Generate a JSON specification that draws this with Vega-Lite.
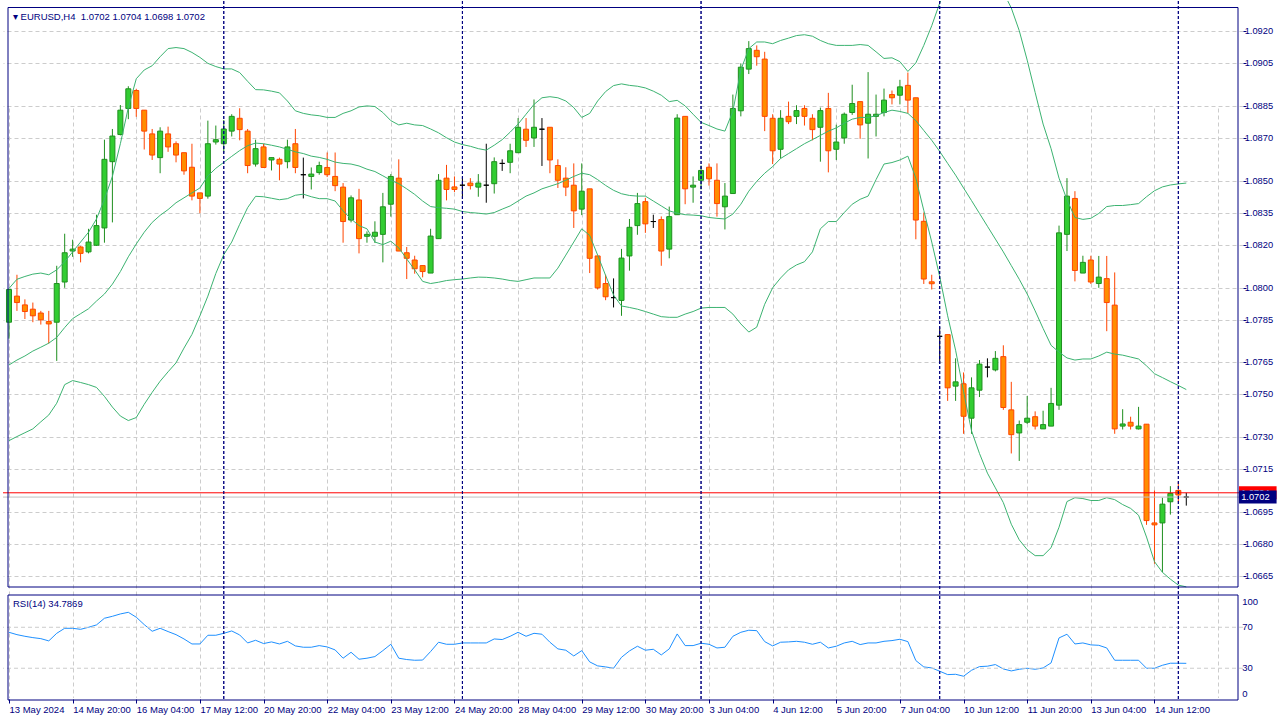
{
"$schema": "https://vega.github.io/schema/vega-lite/v6.json",
"background": "#ffffff",
"width": 1280,
"height": 720,
"autosize": {"type": "fit", "contains": "padding"},
"padding": {"left": 2, "top": 0, "right": 2, "bottom": 6},
"config": {
 "view": {"stroke": null},
 "axis": {"labelFont": "Liberation Sans", "labelFontSize": 9.5, "labelColor": "#000080", "gridColor": "#cccccc", "gridDash": [4, 3], "gridWidth": 1, "domainColor": "#000080", "tickColor": "#000080", "title": null, "labelOverlap": false}
},
"datasets": {
 "seps": [{"k": 27}, {"k": 57}, {"k": 87}, {"k": 117}, {"k": 147}],
 "quotes": [{"side": "ask", "p": 1.0704}, {"side": "bid", "p": 1.0702}],
 "pticks": [{"p":1.0665},{"p":1.068},{"p":1.0695},{"p":1.0715},{"p":1.073},{"p":1.075},{"p":1.0765},{"p":1.0785},{"p":1.08},{"p":1.082},{"p":1.0835},{"p":1.085},{"p":1.087},{"p":1.0885},{"p":1.0905},{"p":1.092}],
 "rticks": [{"v":100},{"v":70},{"v":30},{"v":0}],
 "bars": [
{"k":0,"o":1.07838,"h":1.07993,"l":1.07761,"c":1.07991,"u":1.07996,"m":1.07638,"d":1.07284,"r":65.1},
{"k":1,"o":1.07960,"h":1.08060,"l":1.07891,"c":1.07930,"u":1.08039,"m":1.07661,"d":1.07303,"r":62.8},
{"k":2,"o":1.07919,"h":1.07945,"l":1.07853,"c":1.07888,"u":1.08052,"m":1.07680,"d":1.07321,"r":61.2},
{"k":3,"o":1.07899,"h":1.07930,"l":1.07838,"c":1.07868,"u":1.08063,"m":1.07703,"d":1.07339,"r":59.9},
{"k":4,"o":1.07881,"h":1.07891,"l":1.07827,"c":1.07849,"u":1.08068,"m":1.07721,"d":1.07372,"r":58.9},
{"k":5,"o":1.07841,"h":1.07891,"l":1.07738,"c":1.07830,"u":1.08060,"m":1.07740,"d":1.07404,"r":56.7},
{"k":6,"o":1.07838,"h":1.08102,"l":1.07657,"c":1.08019,"u":1.08083,"m":1.07767,"d":1.07459,"r":64.1},
{"k":7,"o":1.08026,"h":1.08252,"l":1.07999,"c":1.08163,"u":1.08121,"m":1.07813,"d":1.07546,"r":69},
{"k":8,"o":1.08171,"h":1.08224,"l":1.08144,"c":1.08180,"u":1.08167,"m":1.07855,"d":1.07565,"r":69},
{"k":9,"o":1.08190,"h":1.08194,"l":1.08118,"c":1.08160,"u":1.08213,"m":1.07878,"d":1.07556,"r":68},
{"k":10,"o":1.08167,"h":1.08275,"l":1.08160,"c":1.08213,"u":1.08259,"m":1.07901,"d":1.07546,"r":70},
{"k":11,"o":1.08198,"h":1.08341,"l":1.08195,"c":1.08290,"u":1.08321,"m":1.07937,"d":1.07533,"r":72.3},
{"k":12,"o":1.08279,"h":1.08692,"l":1.08210,"c":1.08600,"u":1.08413,"m":1.07970,"d":1.07491,"r":78.8},
{"k":13,"o":1.08589,"h":1.08742,"l":1.08305,"c":1.08709,"u":1.08520,"m":1.08016,"d":1.07441,"r":80.7},
{"k":14,"o":1.08716,"h":1.08854,"l":1.08712,"c":1.08830,"u":1.08673,"m":1.08075,"d":1.07399,"r":83},
{"k":15,"o":1.08838,"h":1.08942,"l":1.08788,"c":1.08930,"u":1.08842,"m":1.08144,"d":1.07378,"r":84.6},
{"k":16,"o":1.08922,"h":1.08930,"l":1.08799,"c":1.08838,"u":1.08977,"m":1.08204,"d":1.07392,"r":79.8},
{"k":17,"o":1.08830,"h":1.08830,"l":1.08646,"c":1.08732,"u":1.09018,"m":1.08259,"d":1.07454,"r":72.6},
{"k":18,"o":1.08719,"h":1.08742,"l":1.08597,"c":1.08620,"u":1.09038,"m":1.08305,"d":1.07510,"r":66.1},
{"k":19,"o":1.08608,"h":1.08750,"l":1.08535,"c":1.08732,"u":1.09080,"m":1.08338,"d":1.07562,"r":69},
{"k":20,"o":1.08719,"h":1.08753,"l":1.08635,"c":1.08658,"u":1.09118,"m":1.08365,"d":1.07606,"r":65.8},
{"k":21,"o":1.08673,"h":1.08684,"l":1.08586,"c":1.08620,"u":1.09123,"m":1.08397,"d":1.07648,"r":62.8},
{"k":22,"o":1.08631,"h":1.08631,"l":1.08528,"c":1.08546,"u":1.09118,"m":1.08420,"d":1.07717,"r":58.6},
{"k":23,"o":1.08563,"h":1.08673,"l":1.08408,"c":1.08428,"u":1.09100,"m":1.08443,"d":1.07781,"r":53.7},
{"k":24,"o":1.08443,"h":1.08443,"l":1.08348,"c":1.08417,"u":1.09077,"m":1.08466,"d":1.07868,"r":53.7},
{"k":25,"o":1.08428,"h":1.08781,"l":1.08416,"c":1.08673,"u":1.09049,"m":1.08522,"d":1.07960,"r":62.2},
{"k":26,"o":1.08681,"h":1.08758,"l":1.08669,"c":1.08692,"u":1.09034,"m":1.08558,"d":1.08066,"r":62.2},
{"k":27,"o":1.08673,"h":1.08784,"l":1.08632,"c":1.08742,"u":1.09023,"m":1.08586,"d":1.08154,"r":64.1},
{"k":28,"o":1.08732,"h":1.08811,"l":1.08707,"c":1.08801,"u":1.09023,"m":1.08614,"d":1.08213,"r":66.4},
{"k":29,"o":1.08792,"h":1.08839,"l":1.08689,"c":1.08739,"u":1.09006,"m":1.08641,"d":1.08296,"r":62.5},
{"k":30,"o":1.08732,"h":1.08742,"l":1.08535,"c":1.08571,"u":1.08965,"m":1.08664,"d":1.08374,"r":54.7},
{"k":31,"o":1.08578,"h":1.08692,"l":1.08566,"c":1.08650,"u":1.08926,"m":1.08676,"d":1.08427,"r":57.3},
{"k":32,"o":1.08658,"h":1.08673,"l":1.08562,"c":1.08562,"u":1.08925,"m":1.08673,"d":1.08425,"r":54.1},
{"k":33,"o":1.08597,"h":1.08608,"l":1.08548,"c":1.08608,"u":1.08919,"m":1.08666,"d":1.08418,"r":55.7},
{"k":34,"o":1.08600,"h":1.08608,"l":1.08502,"c":1.08578,"u":1.08911,"m":1.08658,"d":1.08411,"r":53.7},
{"k":35,"o":1.08589,"h":1.08692,"l":1.08558,"c":1.08658,"u":1.08873,"m":1.08647,"d":1.08416,"r":56.3},
{"k":36,"o":1.08673,"h":1.08742,"l":1.08535,"c":1.08562,"u":1.08827,"m":1.08635,"d":1.08432,"r":51.8},
{"k":37,"o":1.08528,"h":1.08608,"l":1.08417,"c":1.08528,"u":1.08815,"m":1.08627,"d":1.08437,"r":50.5},
{"k":38,"o":1.08520,"h":1.08562,"l":1.08459,"c":1.08531,"u":1.08808,"m":1.08615,"d":1.08425,"r":50.5},
{"k":39,"o":1.08538,"h":1.08589,"l":1.08528,"c":1.08571,"u":1.08804,"m":1.08609,"d":1.08416,"r":52.1},
{"k":40,"o":1.08562,"h":1.08632,"l":1.08517,"c":1.08528,"u":1.08796,"m":1.08600,"d":1.08416,"r":50.8},
{"k":41,"o":1.08520,"h":1.08632,"l":1.08451,"c":1.08477,"u":1.08796,"m":1.08587,"d":1.08405,"r":47.9},
{"k":42,"o":1.08470,"h":1.08489,"l":1.08210,"c":1.08309,"u":1.08815,"m":1.08581,"d":1.08359,"r":39.8},
{"k":43,"o":1.08316,"h":1.08431,"l":1.08305,"c":1.08420,"u":1.08827,"m":1.08578,"d":1.08321,"r":45.6},
{"k":44,"o":1.08410,"h":1.08462,"l":1.08160,"c":1.08229,"u":1.08845,"m":1.08569,"d":1.08290,"r":38.8},
{"k":45,"o":1.08240,"h":1.08263,"l":1.08210,"c":1.08249,"u":1.08850,"m":1.08554,"d":1.08275,"r":39.8},
{"k":46,"o":1.08240,"h":1.08310,"l":1.08209,"c":1.08259,"u":1.08847,"m":1.08543,"d":1.08213,"r":41.4},
{"k":47,"o":1.08249,"h":1.08443,"l":1.08118,"c":1.08378,"u":1.08819,"m":1.08523,"d":1.08201,"r":47.2},
{"k":48,"o":1.08390,"h":1.08531,"l":1.08332,"c":1.08520,"u":1.08781,"m":1.08502,"d":1.08217,"r":53.4},
{"k":49,"o":1.08512,"h":1.08600,"l":1.08171,"c":1.08171,"u":1.08761,"m":1.08486,"d":1.08186,"r":39.8},
{"k":50,"o":1.08163,"h":1.08190,"l":1.08040,"c":1.08137,"u":1.08769,"m":1.08462,"d":1.08134,"r":38.5},
{"k":51,"o":1.08129,"h":1.08149,"l":1.08065,"c":1.08088,"u":1.08761,"m":1.08436,"d":1.08083,"r":37.8},
{"k":52,"o":1.08103,"h":1.08103,"l":1.08048,"c":1.08075,"u":1.08758,"m":1.08405,"d":1.08029,"r":38},
{"k":53,"o":1.08068,"h":1.08275,"l":1.08068,"c":1.08241,"u":1.08742,"m":1.08379,"d":1.08019,"r":46.3},
{"k":54,"o":1.08229,"h":1.08531,"l":1.08229,"c":1.08502,"u":1.08724,"m":1.08374,"d":1.08025,"r":55.4},
{"k":55,"o":1.08512,"h":1.08574,"l":1.08408,"c":1.08459,"u":1.08701,"m":1.08371,"d":1.08033,"r":53.4},
{"k":56,"o":1.08471,"h":1.08520,"l":1.08447,"c":1.08459,"u":1.08681,"m":1.08367,"d":1.08037,"r":53.4},
{"k":57,"o":1.08479,"h":1.08516,"l":1.08416,"c":1.08479,"u":1.08669,"m":1.08356,"d":1.08040,"r":54.7},
{"k":58,"o":1.08489,"h":1.08512,"l":1.08459,"c":1.08477,"u":1.08661,"m":1.08351,"d":1.08045,"r":54.7},
{"k":59,"o":1.08470,"h":1.08531,"l":1.08425,"c":1.08489,"u":1.08650,"m":1.08348,"d":1.08049,"r":54.7},
{"k":60,"o":1.08479,"h":1.08673,"l":1.08397,"c":1.08479,"u":1.08643,"m":1.08344,"d":1.08048,"r":54.7},
{"k":61,"o":1.08486,"h":1.08609,"l":1.08440,"c":1.08589,"u":1.08666,"m":1.08351,"d":1.08045,"r":58.6},
{"k":62,"o":1.08581,"h":1.08600,"l":1.08546,"c":1.08581,"u":1.08692,"m":1.08367,"d":1.08040,"r":58},
{"k":63,"o":1.08586,"h":1.08673,"l":1.08535,"c":1.08640,"u":1.08727,"m":1.08382,"d":1.08033,"r":61.2},
{"k":64,"o":1.08631,"h":1.08793,"l":1.08631,"c":1.08750,"u":1.08765,"m":1.08405,"d":1.08029,"r":65.1},
{"k":65,"o":1.08741,"h":1.08793,"l":1.08658,"c":1.08689,"u":1.08811,"m":1.08428,"d":1.08037,"r":61.2},
{"k":66,"o":1.08700,"h":1.08880,"l":1.08658,"c":1.08750,"u":1.08857,"m":1.08443,"d":1.08045,"r":64.1},
{"k":67,"o":1.08741,"h":1.08793,"l":1.08569,"c":1.08741,"u":1.08888,"m":1.08462,"d":1.08045,"r":63.2},
{"k":68,"o":1.08750,"h":1.08750,"l":1.08535,"c":1.08597,"u":1.08893,"m":1.08474,"d":1.08045,"r":55.4},
{"k":69,"o":1.08571,"h":1.08600,"l":1.08466,"c":1.08502,"u":1.08888,"m":1.08486,"d":1.08091,"r":48.9},
{"k":70,"o":1.08512,"h":1.08563,"l":1.08428,"c":1.08470,"u":1.08873,"m":1.08502,"d":1.08152,"r":47.6},
{"k":71,"o":1.08479,"h":1.08581,"l":1.08279,"c":1.08359,"u":1.08842,"m":1.08520,"d":1.08213,"r":42},
{"k":72,"o":1.08367,"h":1.08581,"l":1.08339,"c":1.08451,"u":1.08796,"m":1.08535,"d":1.08275,"r":47.2},
{"k":73,"o":1.08462,"h":1.08462,"l":1.08068,"c":1.08137,"u":1.08815,"m":1.08528,"d":1.08244,"r":36.2},
{"k":74,"o":1.08148,"h":1.08148,"l":1.07991,"c":1.07999,"u":1.08873,"m":1.08505,"d":1.08152,"r":32.3},
{"k":75,"o":1.08019,"h":1.08060,"l":1.07941,"c":1.07957,"u":1.08917,"m":1.08478,"d":1.08057,"r":31.3},
{"k":76,"o":1.07953,"h":1.08043,"l":1.07907,"c":1.07953,"u":1.08945,"m":1.08455,"d":1.07965,"r":30},
{"k":77,"o":1.07940,"h":1.08181,"l":1.07868,"c":1.08138,"u":1.08953,"m":1.08439,"d":1.07914,"r":40.7},
{"k":78,"o":1.08148,"h":1.08321,"l":1.08079,"c":1.08282,"u":1.08946,"m":1.08431,"d":1.07907,"r":46.9},
{"k":79,"o":1.08290,"h":1.08443,"l":1.08247,"c":1.08393,"u":1.08942,"m":1.08428,"d":1.07899,"r":51.5},
{"k":80,"o":1.08402,"h":1.08420,"l":1.08256,"c":1.08298,"u":1.08934,"m":1.08428,"d":1.07888,"r":47.6},
{"k":81,"o":1.08309,"h":1.08341,"l":1.08279,"c":1.08309,"u":1.08919,"m":1.08405,"d":1.07876,"r":48.5},
{"k":82,"o":1.08318,"h":1.08333,"l":1.08102,"c":1.08171,"u":1.08900,"m":1.08382,"d":1.07864,"r":43},
{"k":83,"o":1.08180,"h":1.08379,"l":1.08137,"c":1.08332,"u":1.08870,"m":1.08359,"d":1.07861,"r":48.9},
{"k":84,"o":1.08341,"h":1.08811,"l":1.08341,"c":1.08793,"u":1.08876,"m":1.08348,"d":1.07861,"r":63.5},
{"k":85,"o":1.08801,"h":1.08801,"l":1.08390,"c":1.08462,"u":1.08850,"m":1.08341,"d":1.07876,"r":52.1},
{"k":86,"o":1.08470,"h":1.08520,"l":1.08397,"c":1.08479,"u":1.08811,"m":1.08339,"d":1.07888,"r":52.1},
{"k":87,"o":1.08502,"h":1.08571,"l":1.08459,"c":1.08548,"u":1.08773,"m":1.08336,"d":1.07904,"r":54.4},
{"k":88,"o":1.08563,"h":1.08581,"l":1.08477,"c":1.08509,"u":1.08758,"m":1.08328,"d":1.07907,"r":53.4},
{"k":89,"o":1.08502,"h":1.08581,"l":1.08332,"c":1.08393,"u":1.08742,"m":1.08324,"d":1.07907,"r":49.8},
{"k":90,"o":1.08378,"h":1.08489,"l":1.08272,"c":1.08428,"u":1.08732,"m":1.08321,"d":1.07907,"r":50.5},
{"k":91,"o":1.08440,"h":1.08903,"l":1.08440,"c":1.08838,"u":1.08825,"m":1.08344,"d":1.07876,"r":61.2},
{"k":92,"o":1.08827,"h":1.09049,"l":1.08801,"c":1.09031,"u":1.09018,"m":1.08390,"d":1.07830,"r":65.1},
{"k":93,"o":1.09022,"h":1.09153,"l":1.08999,"c":1.09118,"u":1.09118,"m":1.08451,"d":1.07792,"r":67.1},
{"k":94,"o":1.09110,"h":1.09133,"l":1.09038,"c":1.09080,"u":1.09149,"m":1.08497,"d":1.07815,"r":66.7},
{"k":95,"o":1.09069,"h":1.09103,"l":1.08732,"c":1.08801,"u":1.09149,"m":1.08535,"d":1.07922,"r":56},
{"k":96,"o":1.08792,"h":1.08811,"l":1.08578,"c":1.08640,"u":1.09141,"m":1.08566,"d":1.07999,"r":51.8},
{"k":97,"o":1.08647,"h":1.08830,"l":1.08604,"c":1.08792,"u":1.09156,"m":1.08604,"d":1.08045,"r":55.4},
{"k":98,"o":1.08801,"h":1.08870,"l":1.08765,"c":1.08776,"u":1.09167,"m":1.08627,"d":1.08083,"r":55.7},
{"k":99,"o":1.08801,"h":1.08853,"l":1.08765,"c":1.08828,"u":1.09179,"m":1.08650,"d":1.08106,"r":56.3},
{"k":100,"o":1.08838,"h":1.08853,"l":1.08758,"c":1.08801,"u":1.09183,"m":1.08673,"d":1.08121,"r":55.4},
{"k":101,"o":1.08792,"h":1.08811,"l":1.08689,"c":1.08739,"u":1.09176,"m":1.08692,"d":1.08167,"r":53.4},
{"k":102,"o":1.08750,"h":1.08842,"l":1.08589,"c":1.08828,"u":1.09156,"m":1.08712,"d":1.08275,"r":55.4},
{"k":103,"o":1.08838,"h":1.08911,"l":1.08539,"c":1.08640,"u":1.09141,"m":1.08732,"d":1.08309,"r":49.8},
{"k":104,"o":1.08647,"h":1.08762,"l":1.08597,"c":1.08681,"u":1.09133,"m":1.08747,"d":1.08309,"r":51.5},
{"k":105,"o":1.08700,"h":1.08819,"l":1.08673,"c":1.08811,"u":1.09133,"m":1.08769,"d":1.08351,"r":54.7},
{"k":106,"o":1.08819,"h":1.08949,"l":1.08808,"c":1.08861,"u":1.09133,"m":1.08788,"d":1.08390,"r":56.3},
{"k":107,"o":1.08870,"h":1.08870,"l":1.08696,"c":1.08761,"u":1.09137,"m":1.08796,"d":1.08413,"r":53.1},
{"k":108,"o":1.08769,"h":1.09008,"l":1.08604,"c":1.08811,"u":1.09133,"m":1.08796,"d":1.08428,"r":54.7},
{"k":109,"o":1.08801,"h":1.08903,"l":1.08707,"c":1.08811,"u":1.09103,"m":1.08804,"d":1.08505,"r":54.7},
{"k":110,"o":1.08819,"h":1.08931,"l":1.08801,"c":1.08877,"u":1.09072,"m":1.08819,"d":1.08578,"r":56.3},
{"k":111,"o":1.08903,"h":1.08922,"l":1.08857,"c":1.08888,"u":1.09075,"m":1.08830,"d":1.08585,"r":57},
{"k":112,"o":1.08900,"h":1.08972,"l":1.08857,"c":1.08939,"u":1.09057,"m":1.08824,"d":1.08597,"r":58.3},
{"k":113,"o":1.08946,"h":1.09006,"l":1.08815,"c":1.08877,"u":1.09011,"m":1.08815,"d":1.08615,"r":56},
{"k":114,"o":1.08888,"h":1.08888,"l":1.08226,"c":1.08316,"u":1.09051,"m":1.08781,"d":1.08512,"r":37.5},
{"k":115,"o":1.08310,"h":1.08351,"l":1.08017,"c":1.08040,"u":1.09133,"m":1.08735,"d":1.08361,"r":31.3},
{"k":116,"o":1.08027,"h":1.08060,"l":1.07991,"c":1.08018,"u":1.09225,"m":1.08689,"d":1.08213,"r":30.3},
{"k":117,"o":1.07772,"h":1.07815,"l":1.07643,"c":1.07772,"u":1.09331,"m":1.08637,"d":1.08052,"r":27.1},
{"k":118,"o":1.07780,"h":1.07780,"l":1.07470,"c":1.07531,"u":1.09409,"m":1.08581,"d":1.07868,"r":23.8},
{"k":119,"o":1.07539,"h":1.07669,"l":1.07470,"c":1.07559,"u":1.09455,"m":1.08526,"d":1.07707,"r":24.1},
{"k":120,"o":1.07550,"h":1.07603,"l":1.07316,"c":1.07398,"u":1.09492,"m":1.08466,"d":1.07514,"r":22.2},
{"k":121,"o":1.07389,"h":1.07580,"l":1.07316,"c":1.07531,"u":1.09511,"m":1.08407,"d":1.07330,"r":28},
{"k":122,"o":1.07520,"h":1.07661,"l":1.07488,"c":1.07642,"u":1.09511,"m":1.08347,"d":1.07224,"r":31.6},
{"k":123,"o":1.07628,"h":1.07669,"l":1.07580,"c":1.07628,"u":1.09492,"m":1.08287,"d":1.07132,"r":32},
{"k":124,"o":1.07615,"h":1.07703,"l":1.07608,"c":1.07669,"u":1.09446,"m":1.08227,"d":1.07063,"r":33.6},
{"k":125,"o":1.07677,"h":1.07730,"l":1.07428,"c":1.07439,"u":1.09382,"m":1.08167,"d":1.06994,"r":29.3},
{"k":126,"o":1.07428,"h":1.07559,"l":1.07224,"c":1.07312,"u":1.09308,"m":1.08103,"d":1.06893,"r":27.4},
{"k":127,"o":1.07320,"h":1.07378,"l":1.07189,"c":1.07359,"u":1.09202,"m":1.08039,"d":1.06820,"r":29},
{"k":128,"o":1.07370,"h":1.07493,"l":1.07362,"c":1.07389,"u":1.09064,"m":1.07970,"d":1.06774,"r":30},
{"k":129,"o":1.07396,"h":1.07421,"l":1.07336,"c":1.07352,"u":1.08913,"m":1.07891,"d":1.06746,"r":29},
{"k":130,"o":1.07339,"h":1.07424,"l":1.07339,"c":1.07359,"u":1.08765,"m":1.07809,"d":1.06746,"r":30.3},
{"k":131,"o":1.07352,"h":1.07531,"l":1.07352,"c":1.07458,"u":1.08650,"m":1.07730,"d":1.06783,"r":35.2},
{"k":132,"o":1.07450,"h":1.08290,"l":1.07428,"c":1.08256,"u":1.08512,"m":1.07698,"d":1.06879,"r":59.6},
{"k":133,"o":1.08249,"h":1.08512,"l":1.08171,"c":1.08428,"u":1.08411,"m":1.07671,"d":1.06999,"r":63.2},
{"k":134,"o":1.08417,"h":1.08451,"l":1.08029,"c":1.08080,"u":1.08328,"m":1.07661,"d":1.07017,"r":53.7},
{"k":135,"o":1.08068,"h":1.08149,"l":1.08068,"c":1.08118,"u":1.08319,"m":1.07666,"d":1.07013,"r":54.7},
{"k":136,"o":1.08129,"h":1.08149,"l":1.08017,"c":1.08026,"u":1.08324,"m":1.07666,"d":1.07004,"r":52.8},
{"k":137,"o":1.08019,"h":1.08148,"l":1.07999,"c":1.08049,"u":1.08347,"m":1.07680,"d":1.07004,"r":52.4},
{"k":138,"o":1.08042,"h":1.08148,"l":1.07796,"c":1.07930,"u":1.08379,"m":1.07698,"d":1.07017,"r":49.8},
{"k":139,"o":1.07918,"h":1.08071,"l":1.07316,"c":1.07339,"u":1.08384,"m":1.07689,"d":1.07008,"r":37.8},
{"k":140,"o":1.07352,"h":1.07431,"l":1.07336,"c":1.07362,"u":1.08384,"m":1.07684,"d":1.06985,"r":37.8},
{"k":141,"o":1.07370,"h":1.07396,"l":1.07336,"c":1.07352,"u":1.08388,"m":1.07675,"d":1.06967,"r":37.8},
{"k":142,"o":1.07339,"h":1.07442,"l":1.07336,"c":1.07352,"u":1.08393,"m":1.07666,"d":1.06935,"r":37.8},
{"k":143,"o":1.07361,"h":1.07361,"l":1.06890,"c":1.06910,"u":1.08425,"m":1.07634,"d":1.06833,"r":30},
{"k":144,"o":1.06899,"h":1.07051,"l":1.06708,"c":1.06890,"u":1.08453,"m":1.07597,"d":1.06718,"r":30},
{"k":145,"o":1.06899,"h":1.07017,"l":1.06668,"c":1.06987,"u":1.08471,"m":1.07579,"d":1.06668,"r":32.9},
{"k":146,"o":1.06998,"h":1.07071,"l":1.06938,"c":1.07037,"u":1.08480,"m":1.07560,"d":1.06636,"r":34.9},
{"k":147,"o":1.07051,"h":1.07091,"l":1.06998,"c":1.07030,"u":1.08485,"m":1.07542,"d":1.06608,"r":34.9},
{"k":148,"o":1.0702,"h":1.0704,"l":1.0698,"c":1.0702,"u":1.08489,"m":1.07523,"d":1.06600,"r":34.79}
 ]
},
"layer": [
 {
  "layer": [
   {
    "data": {"name": "bars"},
    "mark": {"type": "rule", "clip": true, "strokeWidth": 1},
    "encoding": {
     "x": {"field": "k", "type": "quantitative", "scale": {"domain": [-0.125, 154.5], "nice": false, "zero": false},
       "axis": {"values": [0,4,8,12,16,20,24,28,32,36,40,44,48,52,56,60,64,68,72,76,80,84,88,92,96,100,104,108,112,116,120,124,128,132,136,140,144,148,152],
         "labelExpr": "(datum.value % 8 === 0 && datum.value <= 144) ? ['13 May 2024','14 May 20:00','16 May 04:00','17 May 12:00','20 May 20:00','22 May 04:00','23 May 12:00','24 May 20:00','28 May 04:00','29 May 12:00','30 May 20:00','3 Jun 04:00','4 Jun 12:00','5 Jun 20:00','7 Jun 04:00','10 Jun 12:00','11 Jun 20:00','13 Jun 04:00','14 Jun 12:00'][datum.value / 8] : ''",
         "labelAlign": "left", "labelBaseline": "top", "labelPadding": 1, "tickSize": 4, "domain": false,
         "tickOpacity": {"condition": {"test": "datum.value % 8 === 0 && datum.value <= 144", "value": 1}, "value": 0},
         "labelOverlap": false, "labelFlush": false, "labelBound": false, "grid": true, "title": null}},
     "y": {"field": "l", "type": "quantitative", "scale": {"domain": [1.065993, 1.093103], "range": [591, 1.5], "nice": false, "zero": false},
       "axis": {"orient": "right", "values": [1.0665,1.068,1.0695,1.0715,1.073,1.075,1.0765,1.0785,1.08,1.082,1.0835,1.085,1.087,1.0885,1.0905,1.092], "labels": false, "domain": false, "tickSize": 3, "grid": true, "title": null}},
     "y2": {"field": "h"},
     "color": {"condition": [{"test": "datum.c > datum.o", "value": "#1f8f1f"}, {"test": "datum.c < datum.o", "value": "#ff4500"}], "value": "#000000"}
    }
   },
   {
    "data": {"name": "bars"},
    "mark": {"type": "bar", "size": 5, "clip": true, "strokeWidth": 1},
    "encoding": {
     "x": {"field": "k", "type": "quantitative"},
     "y": {"field": "o", "type": "quantitative"},
     "y2": {"field": "c"},
     "fill": {"condition": [{"test": "datum.c > datum.o", "value": "#32cd32"}, {"test": "datum.c < datum.o", "value": "#ff8c00"}], "value": "#000000"},
     "stroke": {"condition": [{"test": "datum.c > datum.o", "value": "#1f8f1f"}, {"test": "datum.c < datum.o", "value": "#ff4500"}], "value": "#000000"}
    }
   },
   {
    "data": {"name": "bars"},
    "mark": {"type": "line", "clip": true, "color": "#3cb371", "strokeWidth": 1},
    "encoding": {"x": {"field": "k", "type": "quantitative"}, "y": {"field": "u", "type": "quantitative"}}
   },
   {
    "data": {"name": "bars"},
    "mark": {"type": "line", "clip": true, "color": "#3cb371", "strokeWidth": 1},
    "encoding": {"x": {"field": "k", "type": "quantitative"}, "y": {"field": "m", "type": "quantitative"}}
   },
   {
    "data": {"name": "bars"},
    "mark": {"type": "line", "clip": true, "color": "#3cb371", "strokeWidth": 1},
    "encoding": {"x": {"field": "k", "type": "quantitative"}, "y": {"field": "d", "type": "quantitative"}}
   },
   {
    "data": {"name": "seps"},
    "mark": {"type": "rule", "color": "#000080", "strokeDash": [3, 2], "strokeWidth": 1},
    "encoding": {"x": {"field": "k", "type": "quantitative"}}
   },
   {
    "data": {"name": "quotes"},
    "mark": {"type": "rule", "strokeWidth": 1},
    "encoding": {
     "y": {"field": "p", "type": "quantitative"},
     "color": {"condition": {"test": "datum.side === 'ask'", "value": "#ff0000"}, "value": "#c0c0c0"}
    }
   },
   {
    "data": {"values": [{"frame": "price"}]},
    "mark": {"type": "rect", "fillOpacity": 0, "stroke": "#000080", "strokeWidth": 1},
    "encoding": {"x": {"datum": -0.125, "type": "quantitative"}, "x2": {"datum": 154.5}, "y": {"datum": 1.093103, "type": "quantitative"}, "y2": {"datum": 1.065993}}
   },
   {
    "data": {"name": "pticks"},
    "mark": {"type": "text", "align": "left", "baseline": "middle", "color": "#000080", "font": "Liberation Sans", "fontSize": 9.3, "clip": false},
    "encoding": {"x": {"datum": 155.34, "type": "quantitative"}, "y": {"field": "p", "type": "quantitative"}, "text": {"field": "p", "type": "quantitative", "format": ".4f"}}
   },
   {
    "data": {"name": "quotes"},
    "transform": [{"filter": "datum.side === 'ask'"}],
    "mark": {"type": "bar", "size": 13, "clip": false, "color": "#ff0000"},
    "encoding": {"x": {"datum": 154.625, "type": "quantitative"}, "x2": {"datum": 159.35}, "y": {"field": "p", "type": "quantitative"}}
   },
   {
    "data": {"name": "quotes"},
    "transform": [{"filter": "datum.side === 'ask'"}],
    "mark": {"type": "text", "align": "left", "baseline": "middle", "color": "#ffffff", "font": "Liberation Sans", "fontSize": 9.3, "clip": false},
    "encoding": {"x": {"datum": 154.9, "type": "quantitative"}, "y": {"field": "p", "type": "quantitative"}, "text": {"field": "p", "type": "quantitative", "format": ".4f"}}
   },
   {
    "data": {"name": "quotes"},
    "transform": [{"filter": "datum.side === 'bid'"}],
    "mark": {"type": "bar", "size": 13, "clip": false, "color": "#000080"},
    "encoding": {"x": {"datum": 154.625, "type": "quantitative"}, "x2": {"datum": 159.35}, "y": {"field": "p", "type": "quantitative"}}
   },
   {
    "data": {"name": "quotes"},
    "transform": [{"filter": "datum.side === 'bid'"}],
    "mark": {"type": "text", "align": "left", "baseline": "middle", "color": "#ffffff", "font": "Liberation Sans", "fontSize": 9.3, "clip": false},
    "encoding": {"x": {"datum": 154.9, "type": "quantitative"}, "y": {"field": "p", "type": "quantitative"}, "text": {"field": "p", "type": "quantitative", "format": ".4f"}}
   },
   {
    "data": {"values": [{"label": "\u25be EURUSD,H4\u00a0\u00a01.0702 1.0704 1.0698 1.0702"}]},
    "mark": {"type": "text", "align": "left", "baseline": "alphabetic", "color": "#000080", "font": "Liberation Sans", "fontSize": 9.5},
    "encoding": {"x": {"datum": 0.5, "type": "quantitative"}, "y": {"datum": 1.09253, "type": "quantitative"}, "text": {"field": "label", "type": "nominal"}}
   }
  ]
 },
 {
  "layer": [
   {
    "data": {"name": "bars"},
    "mark": {"type": "line", "color": "#1e90ff", "strokeWidth": 1, "clip": true},
    "encoding": {
     "x": {"field": "k", "type": "quantitative"},
     "y": {"field": "r", "type": "quantitative", "scale": {"domain": [-1, 101.5], "range": [699, 594], "nice": false, "zero": false}, "axis": null}
    }
   },
   {
    "data": {"name": "rticks"},
    "transform": [{"filter": "datum.v === 30 || datum.v === 70"}],
    "mark": {"type": "rule", "color": "#cccccc", "strokeDash": [4, 3], "strokeWidth": 1},
    "encoding": {"y": {"field": "v", "type": "quantitative", "axis": null}}
   },
   {
    "data": {"name": "seps"},
    "mark": {"type": "rule", "color": "#000080", "strokeDash": [3, 2], "strokeWidth": 1},
    "encoding": {"x": {"field": "k", "type": "quantitative"}}
   },
   {
    "data": {"values": [{"frame": "rsi"}]},
    "mark": {"type": "rect", "fillOpacity": 0, "stroke": "#000080", "strokeWidth": 1},
    "encoding": {"x": {"datum": -0.125, "type": "quantitative"}, "x2": {"datum": 154.5}, "y": {"datum": 101.5, "type": "quantitative", "axis": null}, "y2": {"datum": -1}}
   },
   {
    "data": {"name": "rticks"},
    "transform": [{"filter": "datum.v === 100"}],
    "mark": {"type": "text", "align": "left", "baseline": "top", "color": "#000080", "font": "Liberation Sans", "fontSize": 9.5, "clip": false},
    "encoding": {"x": {"datum": 155.04, "type": "quantitative"}, "y": {"field": "v", "type": "quantitative", "axis": null}, "text": {"field": "v", "type": "quantitative"}}
   },
   {
    "data": {"name": "rticks"},
    "transform": [{"filter": "datum.v === 30 || datum.v === 70"}],
    "mark": {"type": "text", "align": "left", "baseline": "middle", "color": "#000080", "font": "Liberation Sans", "fontSize": 9.5, "clip": false},
    "encoding": {"x": {"datum": 155.04, "type": "quantitative"}, "y": {"field": "v", "type": "quantitative", "axis": null}, "text": {"field": "v", "type": "quantitative"}}
   },
   {
    "data": {"name": "rticks"},
    "transform": [{"filter": "datum.v === 0"}],
    "mark": {"type": "text", "align": "left", "baseline": "bottom", "color": "#000080", "font": "Liberation Sans", "fontSize": 9.5, "clip": false},
    "encoding": {"x": {"datum": 155.04, "type": "quantitative"}, "y": {"field": "v", "type": "quantitative", "axis": null}, "text": {"field": "v", "type": "quantitative"}}
   },
   {
    "data": {"values": [{"label": "RSI(14) 34.7869"}]},
    "mark": {"type": "text", "align": "left", "baseline": "alphabetic", "color": "#000080", "font": "Liberation Sans", "fontSize": 9.5},
    "encoding": {"x": {"datum": 0.5, "type": "quantitative"}, "y": {"datum": 89.3, "type": "quantitative", "axis": null}, "text": {"field": "label", "type": "nominal"}}
   }
  ]
 }
],
"resolve": {"scale": {"y": "independent"}, "axis": {"y": "independent"}}
}
